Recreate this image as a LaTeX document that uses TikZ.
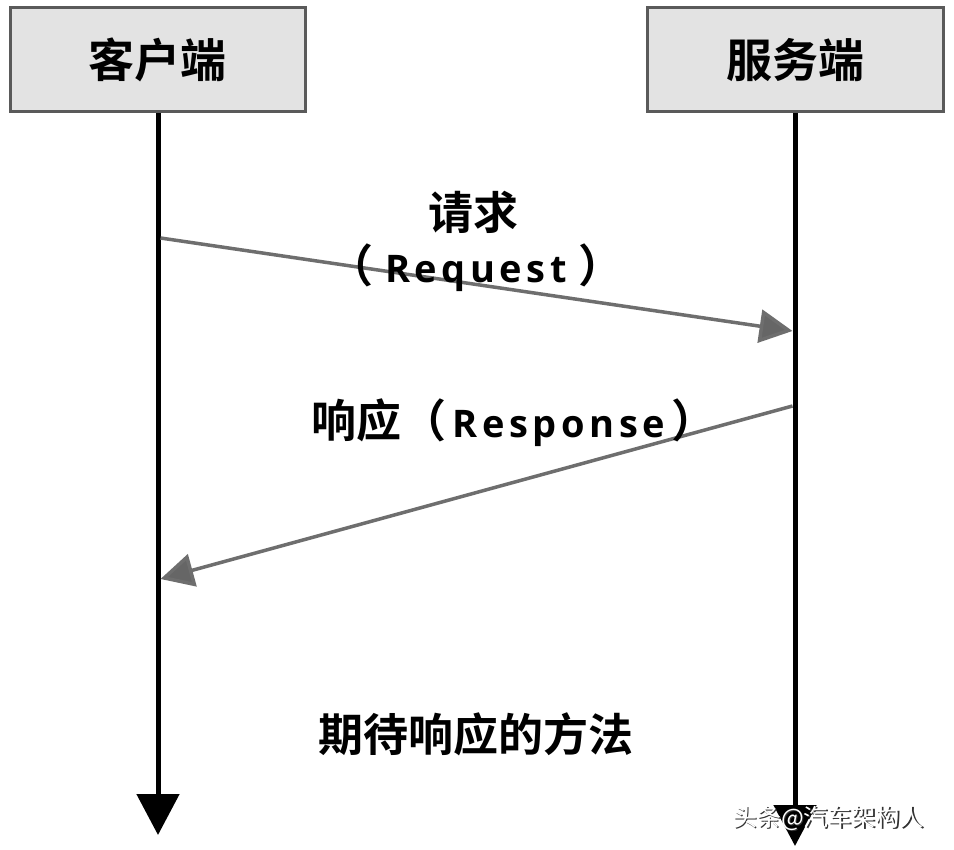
\documentclass[tikz,border=0pt]{standalone}
\usepackage{fontspec}
\setmainfont{Noto Sans CJK SC}
\newfontfamily\cjkb{Noto Sans CJK SC Bold}
\newfontfamily\latb{Open Sans Bold}[LetterSpace=12]
\newfontfamily\wmfont{Noto Sans CJK SC}
\usetikzlibrary{arrows.meta}
\definecolor{boxfill}{HTML}{E3E3E3}
\definecolor{boxline}{HTML}{5A5A5A}
\definecolor{msgline}{HTML}{6E6E6E}
\definecolor{msghead}{HTML}{666666}
\newcommand{\latword}[2]{\hspace{#2}{\latb\fontsize{38}{44}\selectfont #1}\hspace{#2}}
\tikzset{
  actor/.style={draw=boxline, line width=3pt, fill=boxfill, minimum height=104pt, inner sep=0pt, font=\cjkb\fontsize{46}{50}\selectfont},
  lifeline/.style={line width=5pt, -{Triangle[length=41pt,width=42pt]}},
  msg/.style={draw=msgline, line width=3.5pt, -{Triangle[length=33pt,width=33pt,fill=msghead]}},
  lbl/.style={inner sep=0pt, anchor=base, font=\cjkb\fontsize{45}{50}\selectfont},
  wmtext/.style={inner sep=0pt, anchor=base west, font=\wmfont\fontsize{24}{28}\selectfont}
}
\begin{document}
\begin{tikzpicture}[x=1pt,y=-1pt]
\useasboundingbox (0,0) rectangle (954,850);
\fill[white] (0,0) rectangle (954,850);
\node[actor, minimum width=295pt] (client) at (157.5,60) {客户端};
\node[actor, minimum width=296pt] (server) at (795,60) {服务端};
\coordinate (clEnd) at (158,835);
\coordinate (svEnd) at (795,846);
\draw[lifeline] (client.south -| clEnd) -- (clEnd);
\draw[lifeline] (server.south -| svEnd) -- (svEnd);
\coordinate (reqS) at (160.5,238);
\coordinate (reqE) at (792.5,331);
\coordinate (respS) at (792.5,406);
\coordinate (respE) at (160.5,579);
\draw[msg] (reqS) -- (reqE);
\draw[msg] (respS) -- (respE);
\node[lbl] (reqCn) at (473,230) {请求};
\node[lbl] (reqEn) at (476,283) {（\latword{Request}{12pt}）};
\node[lbl] (resp) at (514,438) {响应（\latword{Response}{6pt}）};
\node[lbl] (method) at (476,751) {期待响应的方法};
\node[wmtext, text=black!80] (wmshadow) at (734.2,827.2) {头条@汽车架构人};
\node[wmtext, text=white] (wm) at (733,826) {头条@汽车架构人};
\end{tikzpicture}
\end{document}
